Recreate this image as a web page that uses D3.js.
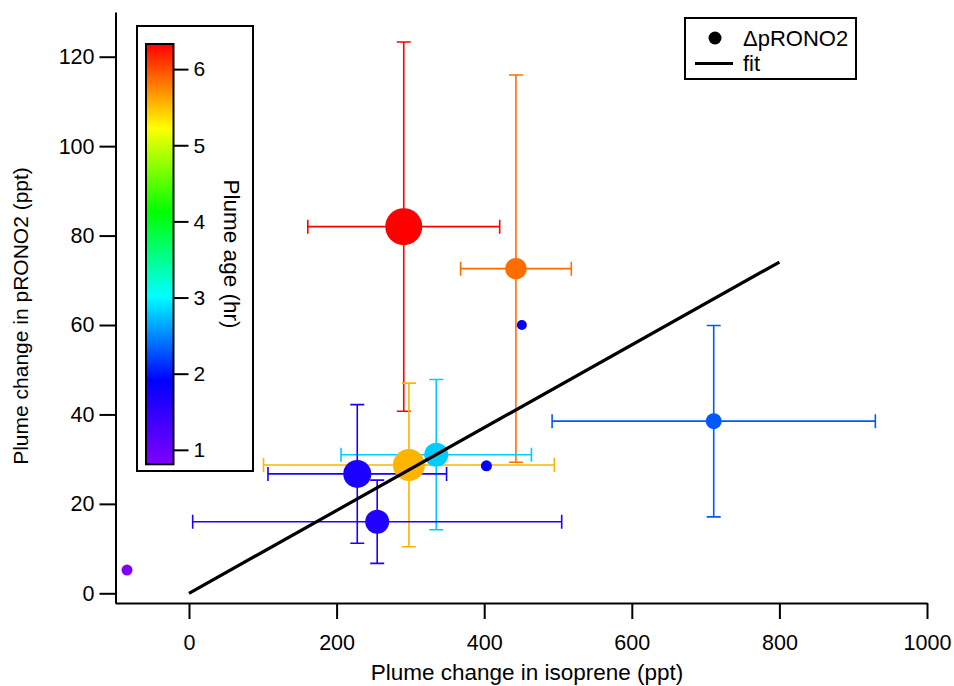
<!DOCTYPE html>
<html>
<head>
<meta charset="utf-8">
<script src="https://cdn.jsdelivr.net/npm/d3@7"></script>
<style>
  body { margin: 0; background: #fff; }
  svg text { font-family: "Liberation Sans", Arial, sans-serif; fill: #000; }
</style>
</head>
<body>
<script>
// Data
var isoprene   = [291, 443, 451, 711, 335, 298, 228, 255, 403, -84];
var isoErr     = [130, 75, null, 219, 129, 197, 121, 250, null, null];
var prono2     = [82, 72.6, 60, 38.5, 31, 28.7, 26.7, 16, 28.5, 5.2];
var pronoErr   = [41.3, 43.3, null, 21.4, 16.8, 18.3, 15.5, 9.3, null, null];
var plumeAge   = [6.33, 5.86, 1.9, 2.3, 2.8, 5.55, 1.69, 1.62, 1.88, 0.82];
var markerWeight = [18.5, 10.7, 5, 8, 12, 16, 14, 12, 5.5, 5.5];

var fitX = [0, 800];
var fitSlope = 0.0926;

var xTicks = [0, 200, 400, 600, 800, 1000];
var yTicks = [0, 20, 40, 60, 80, 100, 120];
var ageTicks = [1, 2, 3, 4, 5, 6];
var ageRange = [0.81, 6.33];
var rainbow = ["#8000ff", "#0000ff", "#00ffff", "#00ff00", "#ffff00", "#ff0000"];

var width = 954, height = 686;
var FONT = "Liberation Sans, Arial, sans-serif";

var svg = d3.select("body").append("svg")
            .attr("width", width)
            .attr("height", height);

// scales
var x = d3.scaleLinear().domain([-100, 1000]).range([115.2, 927]);
var y = d3.scaleLinear().domain([-2.17, 130]).range([603, 12]);
var r = d3.scaleLinear().domain([0, 20]).range([0, 20]);

var ageStops = rainbow.map(function(c, i) {
  return ageRange[0] + i * (ageRange[1] - ageRange[0]) / (rainbow.length - 1);
});
var color = d3.scaleLinear().domain(ageStops).range(rainbow);

// axes
var xAxis = d3.axisBottom(x).tickValues(xTicks).tickFormat(d3.format("d"))
              .tickSize(16).tickSizeOuter(0);
var yAxis = d3.axisLeft(y).tickValues(yTicks).tickFormat(d3.format("d"))
              .tickSize(16).tickSizeOuter(0).tickPadding(5);

var gx = svg.append("g").attr("transform", "translate(0,603)").call(xAxis);
var gy = svg.append("g").attr("transform", "translate(115.5,0)").call(yAxis);
[gx, gy].forEach(function(g) {
  g.attr("font-size", null).attr("font-family", null);
  g.select(".domain").attr("stroke", "#000").attr("stroke-width", 2);
  g.selectAll(".tick line").attr("stroke", "#000").attr("stroke-width", 2);
  g.selectAll(".tick text").style("font-size", "21.5px").style("font-family", FONT);
});
gx.selectAll(".tick text").attr("y", 47).attr("dy", 0);

svg.append("text")
   .attr("x", 527).attr("y", 679.5)
   .attr("text-anchor", "middle")
   .style("font-size", "22.5px")
   .text("Plume change in isoprene (ppt)");

svg.append("text")
   .attr("transform", "translate(28,316) rotate(-90)")
   .attr("text-anchor", "middle")
   .style("font-size", "21px")
   .text("Plume change in pRONO2 (ppt)");

// points
var pts = isoprene.map(function(d, i) {
  return { x: d, xe: isoErr[i], y: prono2[i], ye: pronoErr[i], age: plumeAge[i], w: markerWeight[i] };
});

var cap = 7;
var bars = svg.append("g").attr("stroke-width", 1.6).attr("fill", "none");
pts.forEach(function(d) {
  if (d.xe == null) return;
  var c = color(d.age);
  var g = bars.append("g").attr("stroke", c);
  var x0 = x(d.x - d.xe), x1 = x(d.x + d.xe), yc = y(d.y);
  var y0 = y(d.y - d.ye), y1 = y(d.y + d.ye), xc = x(d.x);
  g.append("path").attr("d",
      "M" + x0 + "," + yc + "H" + x1 +
      "M" + x0 + "," + (yc - cap) + "V" + (yc + cap) +
      "M" + x1 + "," + (yc - cap) + "V" + (yc + cap) +
      "M" + xc + "," + y0 + "V" + y1 +
      "M" + (xc - cap) + "," + y0 + "H" + (xc + cap) +
      "M" + (xc - cap) + "," + y1 + "H" + (xc + cap));
});

svg.append("g").selectAll("circle")
   .data(pts)
   .enter()
   .append("circle")
   .attr("cx", function(d) { return x(d.x); })
   .attr("cy", function(d) { return y(d.y); })
   .attr("r", function(d) { return r(d.w); })
   .attr("fill", function(d) { return color(d.age); });

// fit line
svg.append("line")
   .attr("x1", x(fitX[0])).attr("y1", y(fitX[0] * fitSlope))
   .attr("x2", x(fitX[1])).attr("y2", y(fitX[1] * fitSlope))
   .attr("stroke", "#000").attr("stroke-width", 3.2);

// colour bar
var cb = svg.append("g");
cb.append("rect")
  .attr("x", 137).attr("y", 26).attr("width", 116).attr("height", 445)
  .attr("fill", "#fff").attr("stroke", "#000").attr("stroke-width", 2);

var defs = svg.append("defs");
var grad = defs.append("linearGradient").attr("id", "rainbow")
               .attr("x1", 0).attr("y1", 1).attr("x2", 0).attr("y2", 0);
rainbow.forEach(function(c, i) {
  grad.append("stop").attr("offset", i / (rainbow.length - 1)).attr("stop-color", c);
});

var ageY = d3.scaleLinear().domain(ageRange).range([464.3, 44]);
cb.append("rect")
  .attr("x", 146).attr("y", ageY(ageRange[1])).attr("width", 27.5)
  .attr("height", ageY(ageRange[0]) - ageY(ageRange[1]))
  .attr("fill", "url(#rainbow)").attr("stroke", "#000").attr("stroke-width", 2);

var ageAxis = d3.axisRight(ageY).tickValues(ageTicks).tickFormat(d3.format("d"))
                .tickSize(15).tickSizeOuter(0).tickPadding(5);
var ga = cb.append("g").attr("transform", "translate(173.5,0)").call(ageAxis);
ga.attr("font-size", null).attr("font-family", null);
ga.select(".domain").remove();
ga.selectAll(".tick line").attr("stroke", "#000").attr("stroke-width", 2);
ga.selectAll(".tick text").style("font-size", "21px").style("font-family", FONT);

cb.append("text")
  .attr("transform", "translate(224,254) rotate(90)")
  .attr("text-anchor", "middle")
  .style("font-size", "22.5px")
  .text("Plume age (hr)");

// legend
var lg = svg.append("g");
lg.append("rect")
  .attr("x", 685).attr("y", 18).attr("width", 171).attr("height", 61)
  .attr("fill", "#fff").attr("stroke", "#000").attr("stroke-width", 2);
lg.append("circle").attr("cx", 715).attr("cy", 38).attr("r", 6.5).attr("fill", "#000");
lg.append("text").attr("x", 743).attr("y", 45.5).style("font-size", "22px").text("ΔpRONO2");
lg.append("line").attr("x1", 695).attr("x2", 733).attr("y1", 63.5).attr("y2", 63.5)
  .attr("stroke", "#000").attr("stroke-width", 3);
lg.append("text").attr("x", 743).attr("y", 71).style("font-size", "22px").text("fit");
</script>
</body>
</html>
